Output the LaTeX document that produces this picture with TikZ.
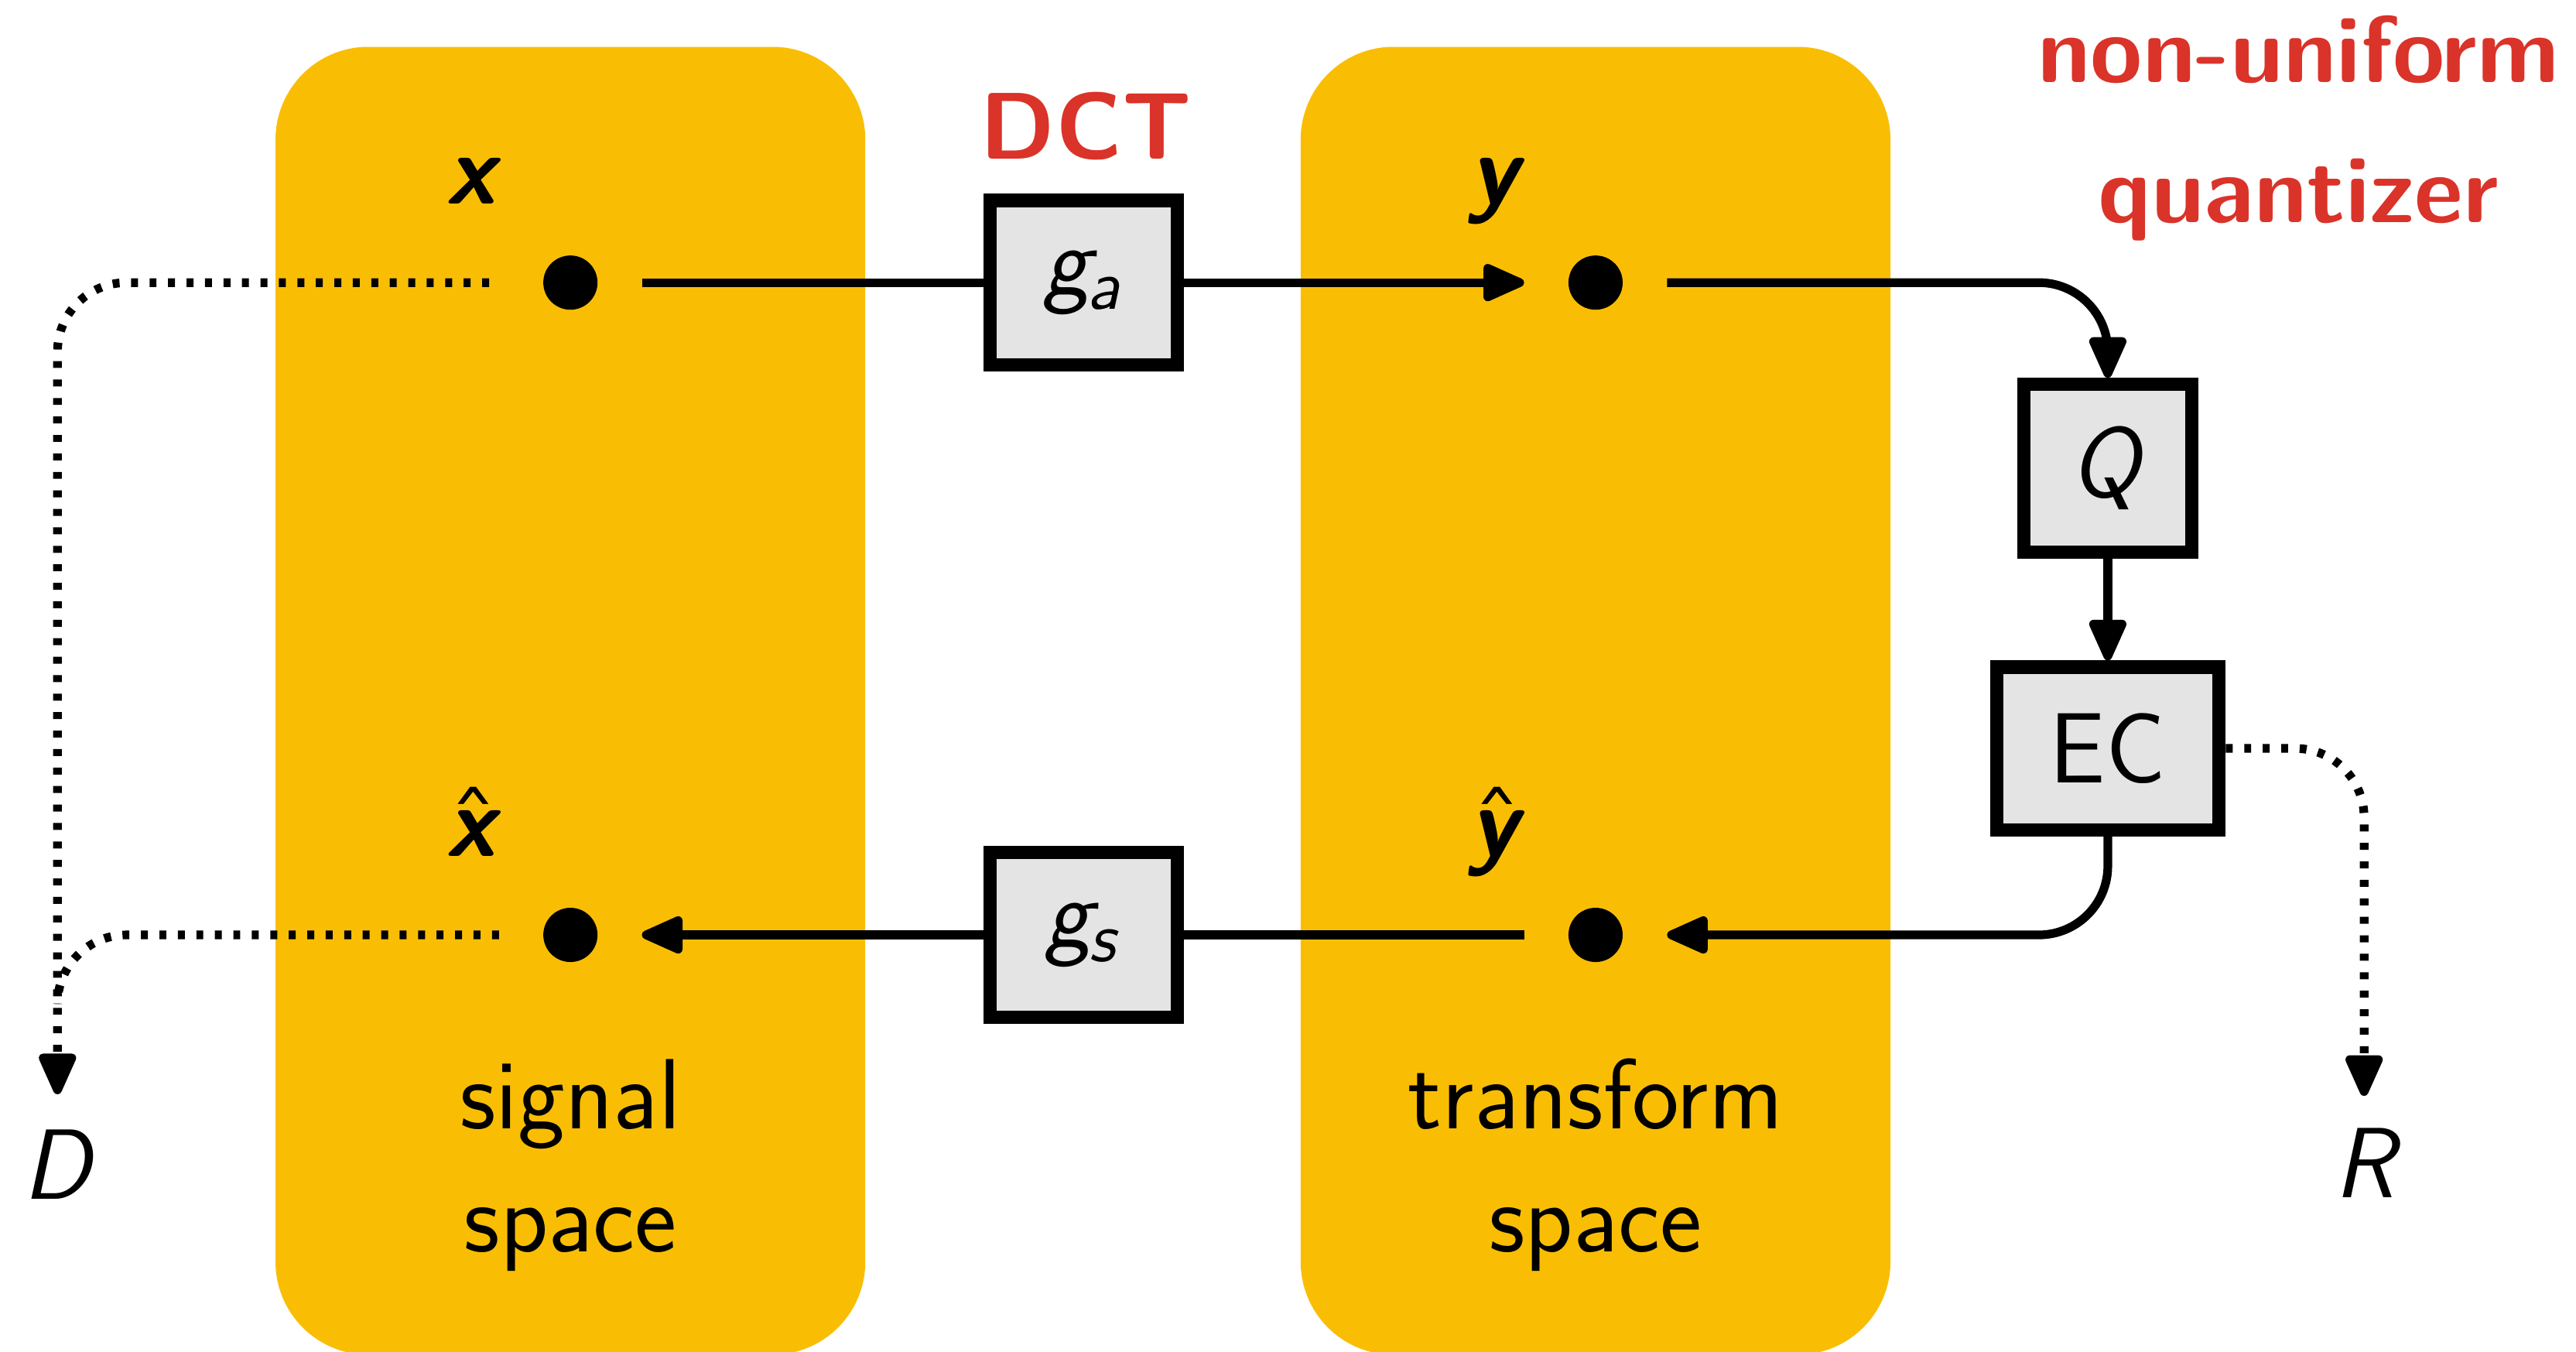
\documentclass[tikz,border=0pt]{standalone}
\usepackage{fontspec}
\setsansfont{Latin Modern Sans}
\renewcommand{\familydefault}{\sfdefault}
\usetikzlibrary{arrows.meta, positioning, calc}
\definecolor{panelyellow}{HTML}{F9BE04}
\definecolor{labelred}{HTML}{DA3329}
\definecolor{boxgrey}{HTML}{E4E4E4}
\newcommand{\hatsym}[1]{{\ooalign{#1\cr\hidewidth\mdseries\char"02C6\hidewidth\cr}}}

\begin{document}
\begin{tikzpicture}[
    font=\fontsize{17.3}{20.8}\selectfont,
    panel/.style={fill=panelyellow, draw=none, rounded corners=0.565cm, minimum width=3.59cm, minimum height=7.96cm, inner sep=0},
    block/.style={draw=black, fill=boxgrey, line width=2.3pt, minimum width=1.14cm, minimum height=1cm, inner sep=0},
    sample/.style={circle, fill=black, minimum size=0.33cm, inner sep=0, outer sep=0.27cm},
    flow/.style={line width=1.5pt, rounded corners=0.42cm},
    arrowed/.style={-{Triangle[length=0.29cm, width=0.24cm, round]}},
    rate/.style={flow, dash pattern=on 1.2pt off 2pt},
    sym/.style={anchor=base},
    redlabel/.style={text=labelred, font=\fontsize{16.4}{19.7}\selectfont\bfseries}
]
  \useasboundingbox (0,0) rectangle (15.68,-8.224);

  % --- SPACES ---
  \node[panel] (sigpanel) at (3.472,-4.265) {};
  \node[panel] (trpanel) at (9.712,-4.265) {};

  % --- SAMPLES ---
  \node[sample] (xd) at (3.472,-1.72) {};
  \node[sample] (yd) at (9.712,-1.72) {};
  \node[sample] (xhd) at (3.472,-5.69) {};
  \node[sample] (yhd) at (9.712,-5.69) {};

  \node[sym] (xlab) at ($(xd)+(-0.59,0.48)$) {\textbf{\textit{x}}};
  \node[sym] (ylab) at ($(yd)+(-0.6,0.48)$) {\textbf{\textit{y}}};
  \node[sym] (xhlab) at ($(xhd)+(-0.59,0.48)$) {\hatsym{\textbf{\textit{x}}}};
  \node[sym] (yhlab) at ($(yhd)+(-0.6,0.48)$) {\hatsym{\textbf{\textit{y}}}};

  % --- TRANSFORMS AND CODER ---
  \node[block] (ga) at (6.595,-1.72) {\textit{g}\kern-0.1em\textsubscript{\textit{a}}};
  \node[block] (gs) at (6.595,-5.69) {\textit{g}\kern-0.1em\textsubscript{\textit{s}}};
  \node[block, minimum width=1.02cm, minimum height=1.02cm] (Q) at (12.83,-2.85) {\textit{Q}};
  \node[block, minimum width=1.355cm, minimum height=0.99cm] (EC) at (12.83,-4.555) {EC};

  \node[redlabel, anchor=base] (dct) at (6.61,-0.966) {DCT};
  \node[redlabel, anchor=base, align=center] (nuq) at (13.99,-1.355) {non-uniform\\[4.6pt]quantizer};

  \node[anchor=base, align=center] (sigtxt) at (3.472,-7.62) {signal\\[0.5pt]space};
  \node[anchor=base, align=center] (trtxt) at (9.712,-7.62) {transform\\[0.5pt]space};

  \node[sym] (dist) at (0.365,-7.30) {\textit{D}};
  \node[sym] (bits) at (14.415,-7.29) {\textit{R}};

  % --- SIGNAL PATH ---
  \draw[flow] (xd) -- (ga);
  \draw[flow, arrowed] (ga) -- (yd);
  \draw[flow, arrowed] (yd) -| (Q);
  \draw[flow, arrowed] (Q) -- (EC);
  \draw[flow, arrowed] (EC) |- (yhd);
  \draw[flow] (yhd) -- (gs);
  \draw[flow, arrowed] (gs) -- (xhd);

  % --- DISTORTION AND RATE ---
  \coordinate (Dend) at (0.35,-6.66);
  \coordinate (Dmerge) at (0.35,-6.11);
  \coordinate (Rend) at (14.39,-6.67);
  \draw[rate, arrowed, shorten <=0.06cm] (xd) -| (Dend);
  \draw[rate] (xhd) -| (Dmerge);
  \draw[rate, arrowed] (EC) -| (Rend);

\end{tikzpicture}
\end{document}
